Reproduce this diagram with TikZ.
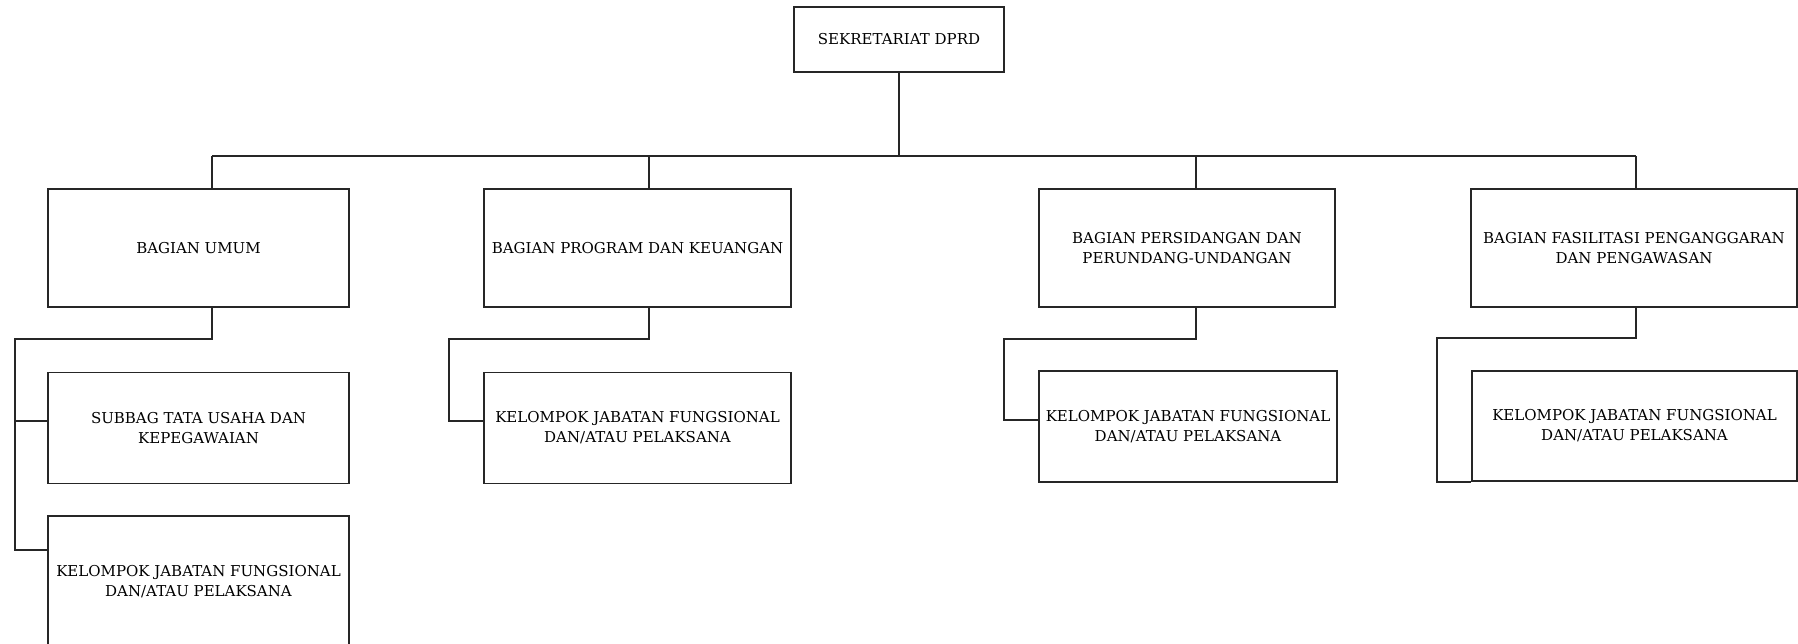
\documentclass[tikz,border=0pt]{standalone}
\usepackage{fontspec}
\setmainfont{DejaVu Serif}
\usepackage{tikz}
\begin{document}
\begin{tikzpicture}[x=1pt,y=-1pt,
  line/.style={line width=1.8pt,black!85},
  box/.style={draw,line width=1.8pt,black!85,rectangle,inner sep=0pt,align=center,
    font=\fontsize{15}{20}\selectfont,text=black},
  lbl/.style={inner sep=0pt,align=center,font=\fontsize{15}{20}\selectfont,text=black}]
\useasboundingbox (0,0) rectangle (1798,643);
\clip (0,0) rectangle (1798,643);
\fill[white] (0,0) rectangle (1798,643);
% top
\node[box,minimum width=210pt,minimum height=65pt] (top) at (899,39.5) {SEKRETARIAT DPRD};
% level 1
\node[box,minimum width=301pt,minimum height=118pt] (b1) at (198.5,248) {BAGIAN UMUM};
\node[box,minimum width=307pt,minimum height=118pt] (b2) at (637.5,248) {BAGIAN PROGRAM DAN KEUANGAN};
\node[box,minimum width=296pt,minimum height=118pt] (b3) at (1187,248) {BAGIAN PERSIDANGAN DAN\\PERUNDANG-UNDANGAN};
\node[box,minimum width=326pt,minimum height=118pt] (b4) at (1634,248) {BAGIAN FASILITASI PENGANGGARAN\\DAN PENGAWASAN};
% level 2
\node[box,minimum width=301pt,minimum height=111pt] (s1) at (198.5,428) {SUBBAG TATA USAHA DAN\\KEPEGAWAIAN};
\node[box,minimum width=301pt,minimum height=150pt] (k1) at (198.5,591) {};
\node[lbl] (k1t) at (198.5,582) {KELOMPOK JABATAN FUNGSIONAL\\DAN/ATAU PELAKSANA};
\node[box,minimum width=307pt,minimum height=111pt] (k2) at (637.5,428) {KELOMPOK JABATAN FUNGSIONAL\\DAN/ATAU PELAKSANA};
\node[box,minimum width=298pt,minimum height=111pt] (k3) at (1188,426.5) {KELOMPOK JABATAN FUNGSIONAL\\DAN/ATAU PELAKSANA};
\node[box,minimum width=325pt,minimum height=110pt] (k4) at (1634.5,426) {KELOMPOK JABATAN FUNGSIONAL\\DAN/ATAU PELAKSANA};
% bus coordinates
\coordinate (c0) at (899,156);
\coordinate (c1) at (212,156);
\coordinate (c2) at (649,156);
\coordinate (c3) at (1196,156);
\coordinate (c4) at (1636,156);
\draw[line] (top.south) -- (c0);
\draw[line] (c1) -- (c4);
\draw[line] (c1) -- (c1 |- b1.north);
\draw[line] (c2) -- (c2 |- b2.north);
\draw[line] (c3) -- (c3 |- b3.north);
\draw[line] (c4) -- (c4 |- b4.north);
% sub connectors
\coordinate (d1) at (15,339);
\coordinate (d2) at (449,339);
\coordinate (d3) at (1004,339);
\coordinate (d4) at (1437,338);
\coordinate (e1) at (15,421);
\coordinate (f1) at (15,550);
\coordinate (e2) at (449,421);
\coordinate (e3) at (1004,420);
\draw[line] (c1 |- b1.south) -- (c1 |- d1) -- (d1) -- (f1) -- (f1 -| k1.west);
\draw[line] (e1) -- (e1 -| s1.west);
\draw[line] (c2 |- b2.south) -- (c2 |- d2) -- (d2) -- (e2) -- (e2 -| k2.west);
\draw[line] (c3 |- b3.south) -- (c3 |- d3) -- (d3) -- (e3) -- (e3 -| k3.west);
\draw[line] (c4 |- b4.south) -- (c4 |- d4) -- (d4) -- (d4 |- k4.south west) -- (k4.south west);
\end{tikzpicture}
\end{document}
